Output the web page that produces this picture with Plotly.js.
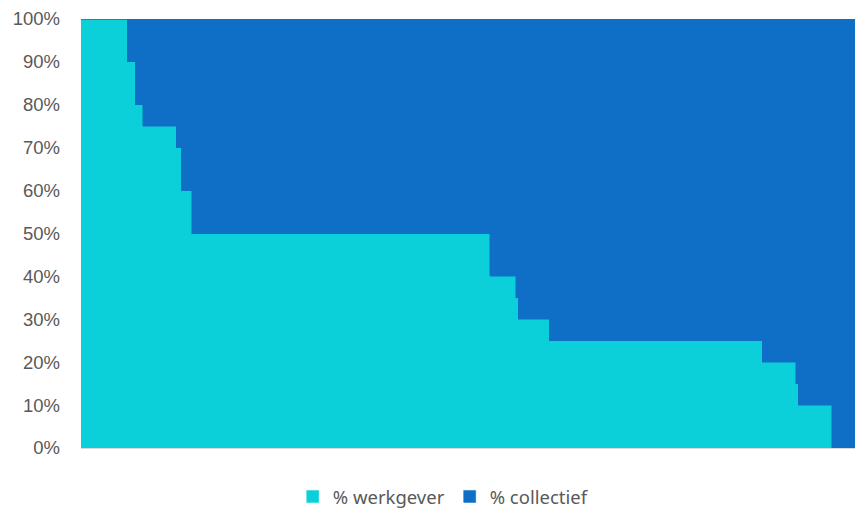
<!DOCTYPE html>
<html>
<head>
<meta charset="utf-8">
<script src="https://cdn.plot.ly/plotly-3.0.1.min.js"></script>
<style>
  html, body { margin: 0; padding: 0; background: #ffffff; }
  #chart { width: 856px; height: 508px; }
</style>
</head>
<body>
<div id="chart"></div>
<script>
// Share paid by employer vs. collective, per group of cases (sorted descending)
const werkgeverLevels  = [1.00, 0.90, 0.80, 0.75, 0.70, 0.60, 0.50, 0.40, 0.35, 0.30, 0.25, 0.20, 0.15, 0.10, 0.00];
const collectiefLevels = [0.00, 0.10, 0.20, 0.25, 0.30, 0.40, 0.50, 0.60, 0.65, 0.70, 0.75, 0.80, 0.85, 0.90, 1.00];
const caseCounts       = [18,   3,    3,    13,   2,    4,    116,  10,   1,    12,   83,   13,   1,    13,   9];

const seriesNames  = ['% werkgever', '% collectief'];
const seriesColors = ['#0BD0D9', '#0F6FC6'];

// expand grouped counts into one bar per case
const caseIdx = [], werkgever = [], collectief = [];
let n = 0;
caseCounts.forEach((c, i) => {
  for (let k = 0; k < c; k++) {
    n += 1;
    caseIdx.push(n);
    werkgever.push(werkgeverLevels[i]);
    collectief.push(collectiefLevels[i]);
  }
});

const traces = [
  { type: 'bar', name: seriesNames[0], x: caseIdx, y: werkgever,
    marker: { color: seriesColors[0], line: { color: seriesColors[0], width: 0.5 } }, hoverinfo: 'skip' },
  { type: 'bar', name: seriesNames[1], x: caseIdx, y: collectief,
    marker: { color: seriesColors[1], line: { color: seriesColors[1], width: 0.5 } }, hoverinfo: 'skip' }
];

const layout = {
  width: 856, height: 508,
  margin: { l: 81, r: 1, t: 19, b: 60, autoexpand: false },
  paper_bgcolor: '#ffffff', plot_bgcolor: '#ffffff',
  barmode: 'stack', bargap: 0,
  font: { family: 'Liberation Sans, Arial, sans-serif', color: '#595959' },
  xaxis: {
    range: [0.5, n + 0.5], showticklabels: false, ticks: '',
    showgrid: false, zeroline: false,
    showline: true, linecolor: '#D9D9D9', linewidth: 1
  },
  yaxis: {
    range: [0, 1], dtick: 0.1, tickformat: '.0%',
    showgrid: false, zeroline: false, ticks: '',
    ticklabelstandoff: 20,
    tickfont: { family: 'Liberation Sans, Arial, sans-serif', size: 18.5, color: '#595959' }
  },
  legend: {
    orientation: 'h', x: 0.468, xanchor: 'center', y: -0.114, yanchor: 'middle',
    font: { family: 'Noto Sans, Open Sans, sans-serif', size: 18.5, color: '#595959' },
    traceorder: 'normal', itemclick: false, itemdoubleclick: false
  },
  showlegend: true
};

Plotly.newPlot('chart', traces, layout, { displayModeBar: false, staticPlot: true });
</script>
</body>
</html>
